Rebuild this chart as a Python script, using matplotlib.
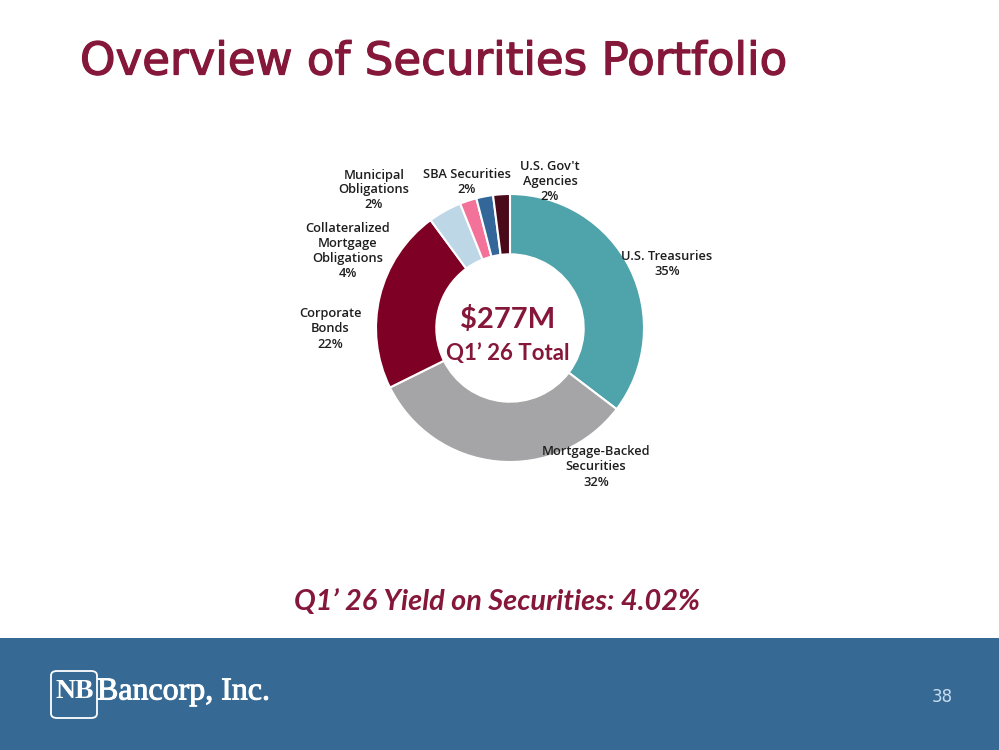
import matplotlib
matplotlib.use("Agg")
import matplotlib.pyplot as plt
import matplotlib.patheffects as pe
from matplotlib.patches import Rectangle, FancyBboxPatch

# portfolio mix, clockwise from 12 o'clock
categories = ["U.S. Treasuries", "Mortgage-Backed\nSecurities", "Corporate\nBonds",
              "Collateralized\nMortgage\nObligations", "Municipal\nObligations",
              "SBA Securities", "U.S. Gov't\nAgencies"]
shares = [35, 32, 22, 4, 2, 2, 2]
colors = ["#4FA3AB", "#A5A5A7", "#7F0025", "#BDD7E7", "#F2729A", "#33679A", "#4A0A1A"]

total_label = "$277M"
total_sub = "Q1\u2019 26 Total"
yield_label = "Q1\u2019 26 Yield on Securities: 4.02%"
title = "Overview of Securities Portfolio"
page_no = "38"

MAROON = "#85183A"
W, H = 999, 750

fig = plt.figure(figsize=(W / 100, H / 100), dpi=100)
fig.patch.set_facecolor("white")

# footer band
fig.patches.append(Rectangle((0, 0), 1, 112 / H, transform=fig.transFigure,
                             facecolor="#366A94", edgecolor="none", zorder=0))

fig.text(80 / W, 1 - 62 / H, title, color=MAROON, fontsize=32.5, va="center", ha="left",
         family="DejaVu Sans",
         path_effects=[pe.withStroke(linewidth=0.9, foreground=MAROON)])

# donut, radius 134 px centred at (510, 328)
cx, cy, r = 510, 328, 134
ax = fig.add_axes([(cx - 1.5 * r) / W, (H - cy - 1.5 * r) / H, 3 * r / W, 3 * r / H])
ax.pie(shares, colors=colors, startangle=90, counterclock=False, radius=1,
       wedgeprops=dict(width=0.45, edgecolor="white", linewidth=1.5))
ax.set_xlim(-1.5, 1.5)
ax.set_ylim(-1.5, 1.5)
ax.set_aspect("equal")
ax.axis("off")

# label centres in pixels
label_px = [(667, 264), (596, 467), (330, 329), (348, 251), (374, 190), (467, 182), (550, 182)]
for name, pct, (px, py) in zip(categories, shares, label_px):
    ax.text((px - cx) / r, (cy - py) / r, f"{name}\n{pct}%", ha="center", va="center",
            fontsize=9.3, color="#1E1E1E", linespacing=1.2, family="Open Sans",
            fontweight="semibold")

ax.text(-0.02, 0.06, total_label, ha="center", va="center", fontsize=21, fontweight="bold",
        color=MAROON, family="Lato")
ax.text(-0.02, -0.19, total_sub, ha="center", va="center", fontsize=16, fontweight="bold",
        color=MAROON, family="Lato")

fig.text(497 / W, 1 - 602 / H, yield_label, ha="center", va="center", fontsize=20.8,
         fontweight="bold", fontstyle="italic", color=MAROON, family="Lato")

# logo
fig.patches.append(FancyBboxPatch((51 / W, 1 - 718 / H), 46 / W, 47 / H,
                                  boxstyle="round,pad=0,rounding_size=0.006",
                                  transform=fig.transFigure, facecolor="none",
                                  edgecolor="white", linewidth=1.3))
fig.text(55 / W, 1 - 692 / H, "NB", color="white", fontsize=20, va="center", ha="left",
         family="Liberation Serif", fontweight="bold")
fig.text(97 / W, 1 - 692 / H, "Bancorp, Inc.", color="white", fontsize=23, va="center",
         ha="left", family="Liberation Serif",
         path_effects=[pe.withStroke(linewidth=0.7, foreground="white")])
fig.text(942 / W, 1 - 697 / H, page_no, color="#C9DDF0", fontsize=12, va="center",
         ha="center", family="DejaVu Sans")

fig.savefig("out.png", dpi=100)
